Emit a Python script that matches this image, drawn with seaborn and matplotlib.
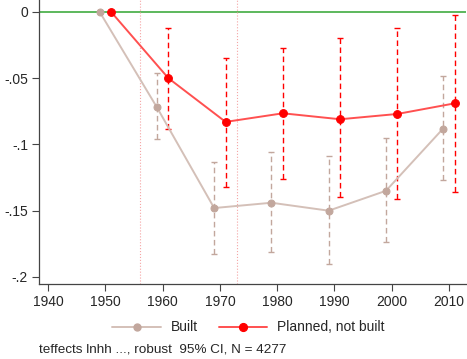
import numpy as np
import pandas as pd
import matplotlib
matplotlib.use('Agg')
import matplotlib.pyplot as plt
import seaborn as sns
from matplotlib.lines import Line2D

sns.set_style('white')
plt.rcParams.update({'font.family': ['Liberation Sans', 'DejaVu Sans'], 'font.size': 10})

# data
years_built = [1949, 1959, 1969, 1979, 1989, 1999, 2009]
built = [0.0, -0.072, -0.148, -0.144, -0.150, -0.135, -0.088]
built_lo = [0.0, -0.096, -0.183, -0.181, -0.190, -0.174, -0.127]
built_hi = [0.0, -0.046, -0.113, -0.106, -0.109, -0.095, -0.048]

years_planned = [1951, 1961, 1971, 1981, 1991, 2001, 2011]
planned = [0.0, -0.050, -0.083, -0.0765, -0.081, -0.077, -0.069]
planned_lo = [0.0, -0.088, -0.132, -0.126, -0.140, -0.141, -0.136]
planned_hi = [0.0, -0.012, -0.035, -0.027, -0.020, -0.012, -0.002]

event_years = [1956, 1973]
x_ticks = [1940, 1950, 1960, 1970, 1980, 1990, 2000, 2010]
y_ticks = [0, -0.05, -0.1, -0.15, -0.2]
y_ticklabels = ['0', '-.05', '-.1', '-.15', '-.2']

c_built = '#c2a79d'
c_built_line = '#d4c0b8'
c_planned = '#ff0000'
c_planned_line = '#ff5050'


def main():
    fig = plt.figure(figsize=(4.67, 3.59), dpi=100)
    ax = fig.add_axes([0.0835, 0.209, 0.9145, 0.791])

    ax.axhline(0, color='#5cb85c', lw=1.4, zorder=1)
    for yr in event_years:
        ax.axvline(yr, color='#f5a5a5', lw=0.8, ls=':', zorder=1)

    # confidence intervals (dashed, small caps)
    for x, y, lo, hi, col in [(years_built, built, built_lo, built_hi, c_built),
                              (years_planned, planned, planned_lo, planned_hi, c_planned)]:
        x = np.array(x[1:])
        y = np.array(y[1:])
        err = np.vstack([y - np.array(lo[1:]), np.array(hi[1:]) - y])
        _, caps, bars = ax.errorbar(x, y, yerr=err, fmt='none', ecolor=col,
                                    elinewidth=1.0, capsize=2.0, capthick=1.0, zorder=2)
        bars[0].set_linestyle((0, (4, 2.5)))

    df_b = pd.DataFrame({'year': years_built, 'value': built})
    df_p = pd.DataFrame({'year': years_planned, 'value': planned})
    sns.lineplot(data=df_b, x='year', y='value', ax=ax, color=c_built_line, lw=1.4,
                 marker='o', markersize=5, markerfacecolor=c_built,
                 markeredgecolor=c_built, zorder=3)
    sns.lineplot(data=df_p, x='year', y='value', ax=ax, color=c_planned_line, lw=1.4,
                 marker='o', markersize=5.6, markerfacecolor=c_planned,
                 markeredgecolor=c_planned, zorder=4)

    ax.set_xlim(1938.4, 2013.0)
    ax.set_ylim(-0.2053, 0.009)
    ax.set_xticks(x_ticks)
    ax.set_yticks(y_ticks)
    ax.set_yticklabels(y_ticklabels)
    ax.set_xlabel('')
    ax.set_ylabel('')
    ax.tick_params(axis='both', direction='out', length=5, width=0.8,
                   color='#444444', labelsize=10, pad=3, left=True, bottom=True)
    for side in ['top', 'right']:
        ax.spines[side].set_visible(False)
    for side in ['left', 'bottom']:
        ax.spines[side].set_color('#444444')
        ax.spines[side].set_linewidth(0.9)

    handles = [
        Line2D([], [], color=c_built_line, lw=1.4, marker='o', markersize=5,
               markerfacecolor=c_built, markeredgecolor=c_built),
        Line2D([], [], color=c_planned_line, lw=1.4, marker='o', markersize=5.6,
               markerfacecolor=c_planned, markeredgecolor=c_planned),
    ]
    fig.legend(handles, ['Built', 'Planned, not built'], loc='center',
               bbox_to_anchor=(0.532, 0.088), ncol=2, frameon=False, fontsize=10,
               handlelength=3.5, columnspacing=1.5, handletextpad=0.7)

    fig.text(0.083, 0.017, 'teffects lnhh ..., robust  95% CI, N = 4277', fontsize=9.7)

    fig.savefig('out.png', dpi=100)
    plt.close(fig)


if __name__ == '__main__':
    main()
